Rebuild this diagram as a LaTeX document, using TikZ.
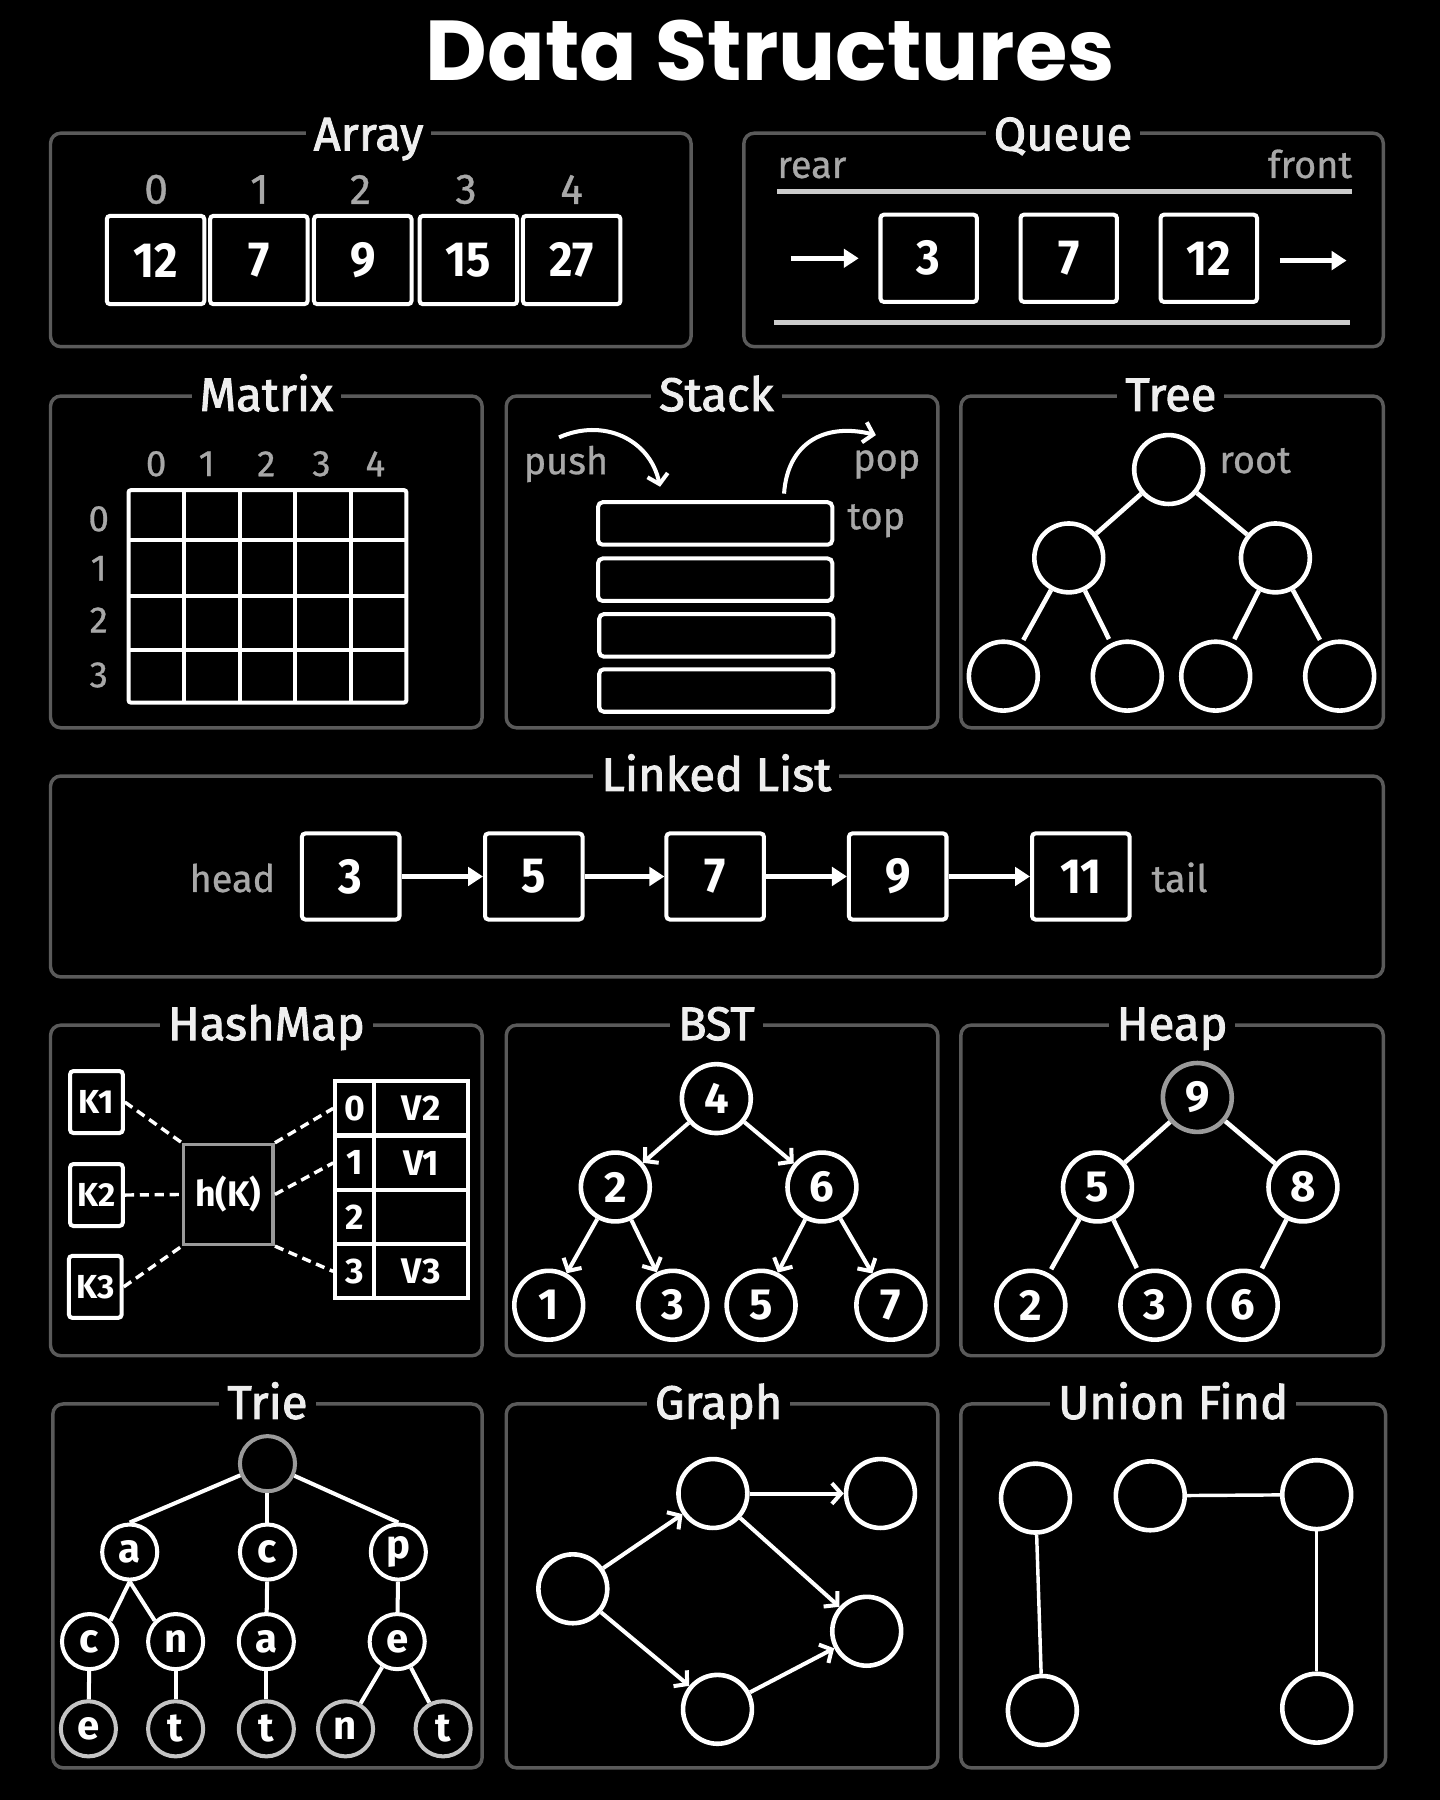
\documentclass[tikz,border=0pt]{standalone}
\usepackage{fontspec}
\setmainfont{Fira Sans}
\newfontfamily\titlefont{Poppins}
\newfontfamily\headfont{Fira Sans}[FakeBold=2.0]
\newfontfamily\lblfont{Fira Sans}[FakeBold=0.8]
\newfontfamily\numfont{Fira Sans}[FakeStretch=0.92]
\usetikzlibrary{arrows.meta}
\definecolor{panelgray}{HTML}{5A5A5A}
\definecolor{labelgray}{HTML}{A8A8A8}
\definecolor{headwhite}{HTML}{EEEEEE}
\definecolor{linegray}{HTML}{CCCCCC}
\definecolor{ringgray}{HTML}{9A9A9A}
\definecolor{leafgray}{HTML}{C4C4C4}
\tikzset{
  panelbox/.style={draw=panelgray, line width=3pt, rounded corners=9pt},
  paneltitle/.style={fill=black, text=headwhite, font=\headfont\fontsize{41}{43}\selectfont, inner xsep=7pt, inner ysep=1pt, anchor=base},
  graylabel/.style={text=labelgray, font=\lblfont\fontsize{33}{36}\selectfont, inner sep=0pt},
  idxlabel/.style={text=labelgray, font=\lblfont\fontsize{37}{39}\selectfont, inner sep=0pt},
  mlabel/.style={text=labelgray, font=\lblfont\fontsize{32}{34}\selectfont, inner sep=0pt},
  cellbox/.style={draw=white, line width=3.5pt, rounded corners=3pt, minimum width=85pt, minimum height=77pt, text=white, font=\numfont\bfseries\fontsize{43}{45}\selectfont, inner sep=0pt},
  stackcell/.style={draw=white, line width=3.5pt, rounded corners=4pt, minimum width=204pt, minimum height=37pt, inner sep=0pt},
  keybox/.style={draw=white, line width=3.5pt, rounded corners=3pt, minimum width=46pt, minimum height=54pt, text=white, font=\bfseries\fontsize{29}{31}\selectfont, inner sep=0pt},
  hashbox/.style={draw=ringgray, line width=3pt, minimum width=78pt, minimum height=87pt, text=white, font=\bfseries\fontsize{31}{33}\selectfont, inner sep=0pt},
  idxcell/.style={draw=white, line width=3.5pt, minimum width=34pt, minimum height=47pt, text=white, font=\bfseries\fontsize{31}{33}\selectfont, inner sep=0pt},
  valcell/.style={draw=white, line width=3.5pt, minimum width=82pt, minimum height=47pt, text=white, font=\bfseries\fontsize{31}{33}\selectfont, inner sep=0pt},
  tcirc/.style={circle, draw=white, line width=4pt, minimum size=60pt, inner sep=0pt, text=white, font=\bfseries\fontsize{38}{40}\selectfont},
  scirc/.style={circle, draw=white, line width=3.5pt, minimum size=48pt, inner sep=0pt, text=white, font=\bfseries\fontsize{35}{37}\selectfont},
  edge/.style={draw=white, line width=4pt},
  thinedge/.style={draw=white, line width=3pt},
  dashedge/.style={draw=white, line width=3pt, dash pattern=on 8pt off 5pt},
  fillarrow/.style={draw=white, line width=4pt, -{Triangle[length=13pt,width=16pt]}},
  barbarrow/.style={draw=white, line width=3.5pt, -{Straight Barb[length=8pt,width=18pt]}},
}
\begin{document}
\begin{tikzpicture}[x=1pt,y=-1pt]
\fill[black] (0,0) rectangle (1254,1568);
\useasboundingbox (0,0) rectangle (1254,1568);

% Title
\node[font=\titlefont\bfseries\fontsize{74}{80}\selectfont, text=white, anchor=base, inner sep=0pt] (title) at (671,70) {Data Structures};

% ---------------- Array ----------------
\draw[panelbox] (44,116) rectangle (602,302);
\node[paneltitle] (tArray) at (321,131) {Array};
\foreach \i/\x in {0/136,1/226,2/314,3/406,4/498}
  \node[idxlabel] (ai\i) at (\x,165) {\i};
\foreach \v/\x [count=\k] in {12/135.5,7/225.5,9/316,15/408,27/498}
  \node[cellbox] (a\k) at (\x,226.5) {\v};

% ---------------- Queue ----------------
\draw[panelbox] (648,116) rectangle (1205,302);
\node[paneltitle] (tQueue) at (926,131) {Queue};
\node[graylabel, anchor=base west] (rear) at (677,155) {rear};
\node[graylabel, anchor=base east] (front) at (1178,155) {front};
\draw[draw=linegray, line width=4pt] (677,167) -- (1178,167);
\draw[draw=linegray, line width=4pt] (674,281) -- (1176,281);
\foreach \v/\x [count=\k] in {3/809,7/931,12/1053}
  \node[cellbox, minimum width=84pt, minimum height=76pt] (q\k) at (\x,225) {\v};
\coordinate (qin) at (689,225);
\coordinate (qinend) at (748,225);
\coordinate (qout) at (1115,227);
\coordinate (qoutend) at (1173,227);
\draw[fillarrow] (qin) -- (qinend);
\draw[fillarrow] (qout) -- (qoutend);

% ---------------- Matrix ----------------
\draw[panelbox] (44,345) rectangle (420,634);
\node[paneltitle] (tMatrix) at (232,358) {Matrix};
\foreach \i/\x in {0/136,1/180,2/232,3/280,4/327}
  \node[mlabel] (mc\i) at (\x,404) {\i};
\foreach \i/\y in {0/452,1/495,2/540,3/588}
  \node[mlabel] (mr\i) at (86,\y) {\i};
\draw[draw=white, line width=3.5pt, rounded corners=2pt] (112,427) rectangle (354,612);
\foreach \x in {160.4,208.8,257.2,305.6}
  \draw[draw=white, line width=3.5pt] (\x,427) -- (\x,612);
\foreach \y in {470,519,566}
  \draw[draw=white, line width=3.5pt] (112,\y) -- (354,\y);

% ---------------- Stack ----------------
\draw[panelbox] (441,345) rectangle (817,634);
\node[paneltitle] (tStack) at (624,358) {Stack};
\node[stackcell] (s1) at (623,456) {};
\node[stackcell] (s2) at (623,505) {};
\node[stackcell] (s3) at (624,553.5) {};
\node[stackcell] (s4) at (624,601.5) {};
\node[graylabel, anchor=base west] (push) at (456,413) {push};
\node[graylabel, anchor=base west] (pop) at (743,410) {pop};
\node[graylabel, anchor=base west] (top) at (738,461) {top};
\coordinate (pushs) at (487,381);
\coordinate (pushe) at (575,424);
\coordinate (pops) at (683,430);
\coordinate (pope) at (763,379);
\draw[barbarrow] (pushs) .. controls (525,364) and (566,382) .. (pushe);
\draw[barbarrow] (pops) .. controls (686,386) and (718,368) .. (pope);

% ---------------- Tree ----------------
\draw[panelbox] (837,345) rectangle (1205,634);
\node[paneltitle] (tTree) at (1020,358) {Tree};
\node[tcirc] (tr) at (1018,409) {};
\node[tcirc] (tl1) at (931,486) {};
\node[tcirc] (tr1) at (1111,486) {};
\node[tcirc] (t1) at (874,589) {};
\node[tcirc] (t2) at (982,589) {};
\node[tcirc] (t3) at (1059,589) {};
\node[tcirc] (t4) at (1167,589) {};
\node[graylabel, anchor=base west] (root) at (1062,412) {root};
\draw[edge] (tr) -- (tl1);
\draw[edge] (tr) -- (tr1);
\draw[edge, shorten >=4pt] (tl1) -- (t1);
\draw[edge, shorten >=4pt] (tl1) -- (t2);
\draw[edge, shorten >=4pt] (tr1) -- (t3);
\draw[edge, shorten >=4pt] (tr1) -- (t4);

% ---------------- Linked List ----------------
\draw[panelbox] (44,676) rectangle (1205,851);
\node[paneltitle] (tLL) at (624,689) {Linked List};
\node[graylabel, anchor=base east] (head) at (240,777) {head};
\foreach \v/\x [count=\k] in {3/305.5,5/465,7/623,9/782,11/941.5}
  \node[cellbox, minimum height=75pt] (l\k) at (\x,763.5) {\v};
\node[graylabel, anchor=base west] (tail) at (1003,777) {tail};
\foreach \a/\b in {1/2,2/3,3/4,4/5}
  \draw[fillarrow] (l\a) -- (l\b);

% ---------------- HashMap ----------------
\draw[panelbox] (44,893) rectangle (420,1181);
\node[paneltitle] (tHash) at (232,906) {HashMap};
\node[keybox] (k1) at (84,960) {K1};
\node[keybox] (k2) at (84,1041) {K2};
\node[keybox] (k3) at (83,1121) {K3};
\node[hashbox] (hk) at (199,1040.5) {h(K)};
\foreach \i/\y/\v in {0/965.5/V2,1/1013/V1,2/1060.5/,3/1107.5/V3} {
  \node[idxcell] (i\i) at (309,\y) {\i};
  \node[valcell] (v\i) at (367,\y) {\v};
}
\draw[dashedge] (k1.east) -- (hk.north west);
\draw[dashedge] (k2.east) -- (hk.west);
\draw[dashedge] (k3.east) -- (hk.south west);
\draw[dashedge] (hk.north east) -- (i0.west);
\draw[dashedge] (hk.east) -- (i1.west);
\draw[dashedge] (hk.south east) -- (i3.west);

% ---------------- BST ----------------
\draw[panelbox] (441,893) rectangle (817,1181);
\node[paneltitle] (tBST) at (624,906) {BST};
\node[tcirc] (b4) at (624,957) {4};
\node[tcirc] (b2) at (536,1034) {2};
\node[tcirc] (b6) at (716,1034) {6};
\node[tcirc] (b1) at (478,1137) {1};
\node[tcirc] (b3) at (586,1137) {3};
\node[tcirc] (b5) at (663,1137) {5};
\node[tcirc] (b7) at (776,1137) {7};
\draw[barbarrow] (b4) -- (b2);
\draw[barbarrow] (b4) -- (b6);
\draw[barbarrow] (b2) -- (b1);
\draw[barbarrow] (b2) -- (b3);
\draw[barbarrow] (b6) -- (b5);
\draw[barbarrow] (b6) -- (b7);

% ---------------- Heap ----------------
\draw[panelbox] (837,893) rectangle (1205,1181);
\node[paneltitle] (tHeap) at (1021,906) {Heap};
\node[tcirc, draw=ringgray] (h9) at (1043,956) {9};
\node[tcirc] (h5) at (956,1034) {5};
\node[tcirc] (h8) at (1135,1034) {8};
\node[tcirc] (h2) at (898,1137) {2};
\node[tcirc] (h3) at (1006,1137) {3};
\node[tcirc] (h6) at (1083,1137) {6};
\draw[edge] (h9) -- (h5);
\draw[edge] (h9) -- (h8);
\draw[edge, shorten >=4pt] (h5) -- (h2);
\draw[edge, shorten >=4pt] (h5) -- (h3);
\draw[edge, shorten >=4pt] (h8) -- (h6);

% ---------------- Trie ----------------
\draw[panelbox] (46,1223) rectangle (420,1540);
\node[paneltitle] (tTrie) at (233,1236) {Trie};
\node[scirc, draw=ringgray] (troot) at (233,1275) {};
\node[scirc] (ta1) at (113,1352) {a};
\node[scirc] (tc1) at (233,1352) {c};
\node[scirc] (tp1) at (347,1352) {p};
\node[scirc] (tc2) at (78,1430) {c};
\node[scirc] (tn2) at (153,1430) {n};
\node[scirc] (ta2) at (232,1430) {a};
\node[scirc] (te2) at (346,1430) {e};
\node[scirc, draw=leafgray] (te3) at (77,1506) {e};
\node[scirc, draw=leafgray] (tt3) at (153,1506) {t};
\node[scirc, draw=leafgray] (tt4) at (232,1506) {t};
\node[scirc, draw=leafgray] (tn3) at (301,1506) {n};
\node[scirc, draw=leafgray] (tt5) at (386,1506) {t};
\draw[edge, line width=3.5pt] (troot) -- (ta1.north);
\draw[edge, line width=3.5pt] (troot) -- (tc1);
\draw[edge, line width=3.5pt] (troot) -- (tp1.north);
\draw[edge, line width=3.5pt] (ta1.south) -- (tc2.north east);
\draw[edge, line width=3.5pt] (ta1.south) -- (tn2.north west);
\draw[edge, line width=3.5pt] (tc1) -- (ta2);
\draw[edge, line width=3.5pt] (tp1) -- (te2);
\draw[edge, line width=3.5pt] (tc2) -- (te3);
\draw[edge, line width=3.5pt] (tn2) -- (tt3);
\draw[edge, line width=3.5pt] (ta2) -- (tt4);
\draw[edge, line width=3.5pt] (te2) -- (tn3);
\draw[edge, line width=3.5pt] (te2) -- (tt5);

% ---------------- Graph ----------------
\draw[panelbox] (441,1223) rectangle (817,1540);
\node[paneltitle] (tGraph) at (626,1236) {Graph};
\node[tcirc] (gA) at (499,1384) {};
\node[tcirc] (gB) at (621,1301) {};
\node[tcirc] (gC) at (767,1301) {};
\node[tcirc] (gD) at (755,1421) {};
\node[tcirc] (gE) at (625,1489) {};
\draw[barbarrow] (gA) -- (gB);
\draw[barbarrow] (gB) -- (gC);
\draw[barbarrow] (gB) -- (gD);
\draw[barbarrow] (gA) -- (gE);
\draw[barbarrow] (gE) -- (gD);

% ---------------- Union Find ----------------
\draw[panelbox] (837,1223) rectangle (1207,1540);
\node[paneltitle] (tUF) at (1022,1236) {Union Find};
\node[tcirc] (u1) at (902,1305) {};
\node[tcirc] (u2) at (1002,1303) {};
\node[tcirc] (u3) at (1147,1302) {};
\node[tcirc] (u4) at (908,1490) {};
\node[tcirc] (u5) at (1147,1488) {};
\draw[thinedge] (u1) -- (u4);
\draw[thinedge] (u2) -- (u3);
\draw[thinedge] (u3) -- (u5);
\end{tikzpicture}
\end{document}
